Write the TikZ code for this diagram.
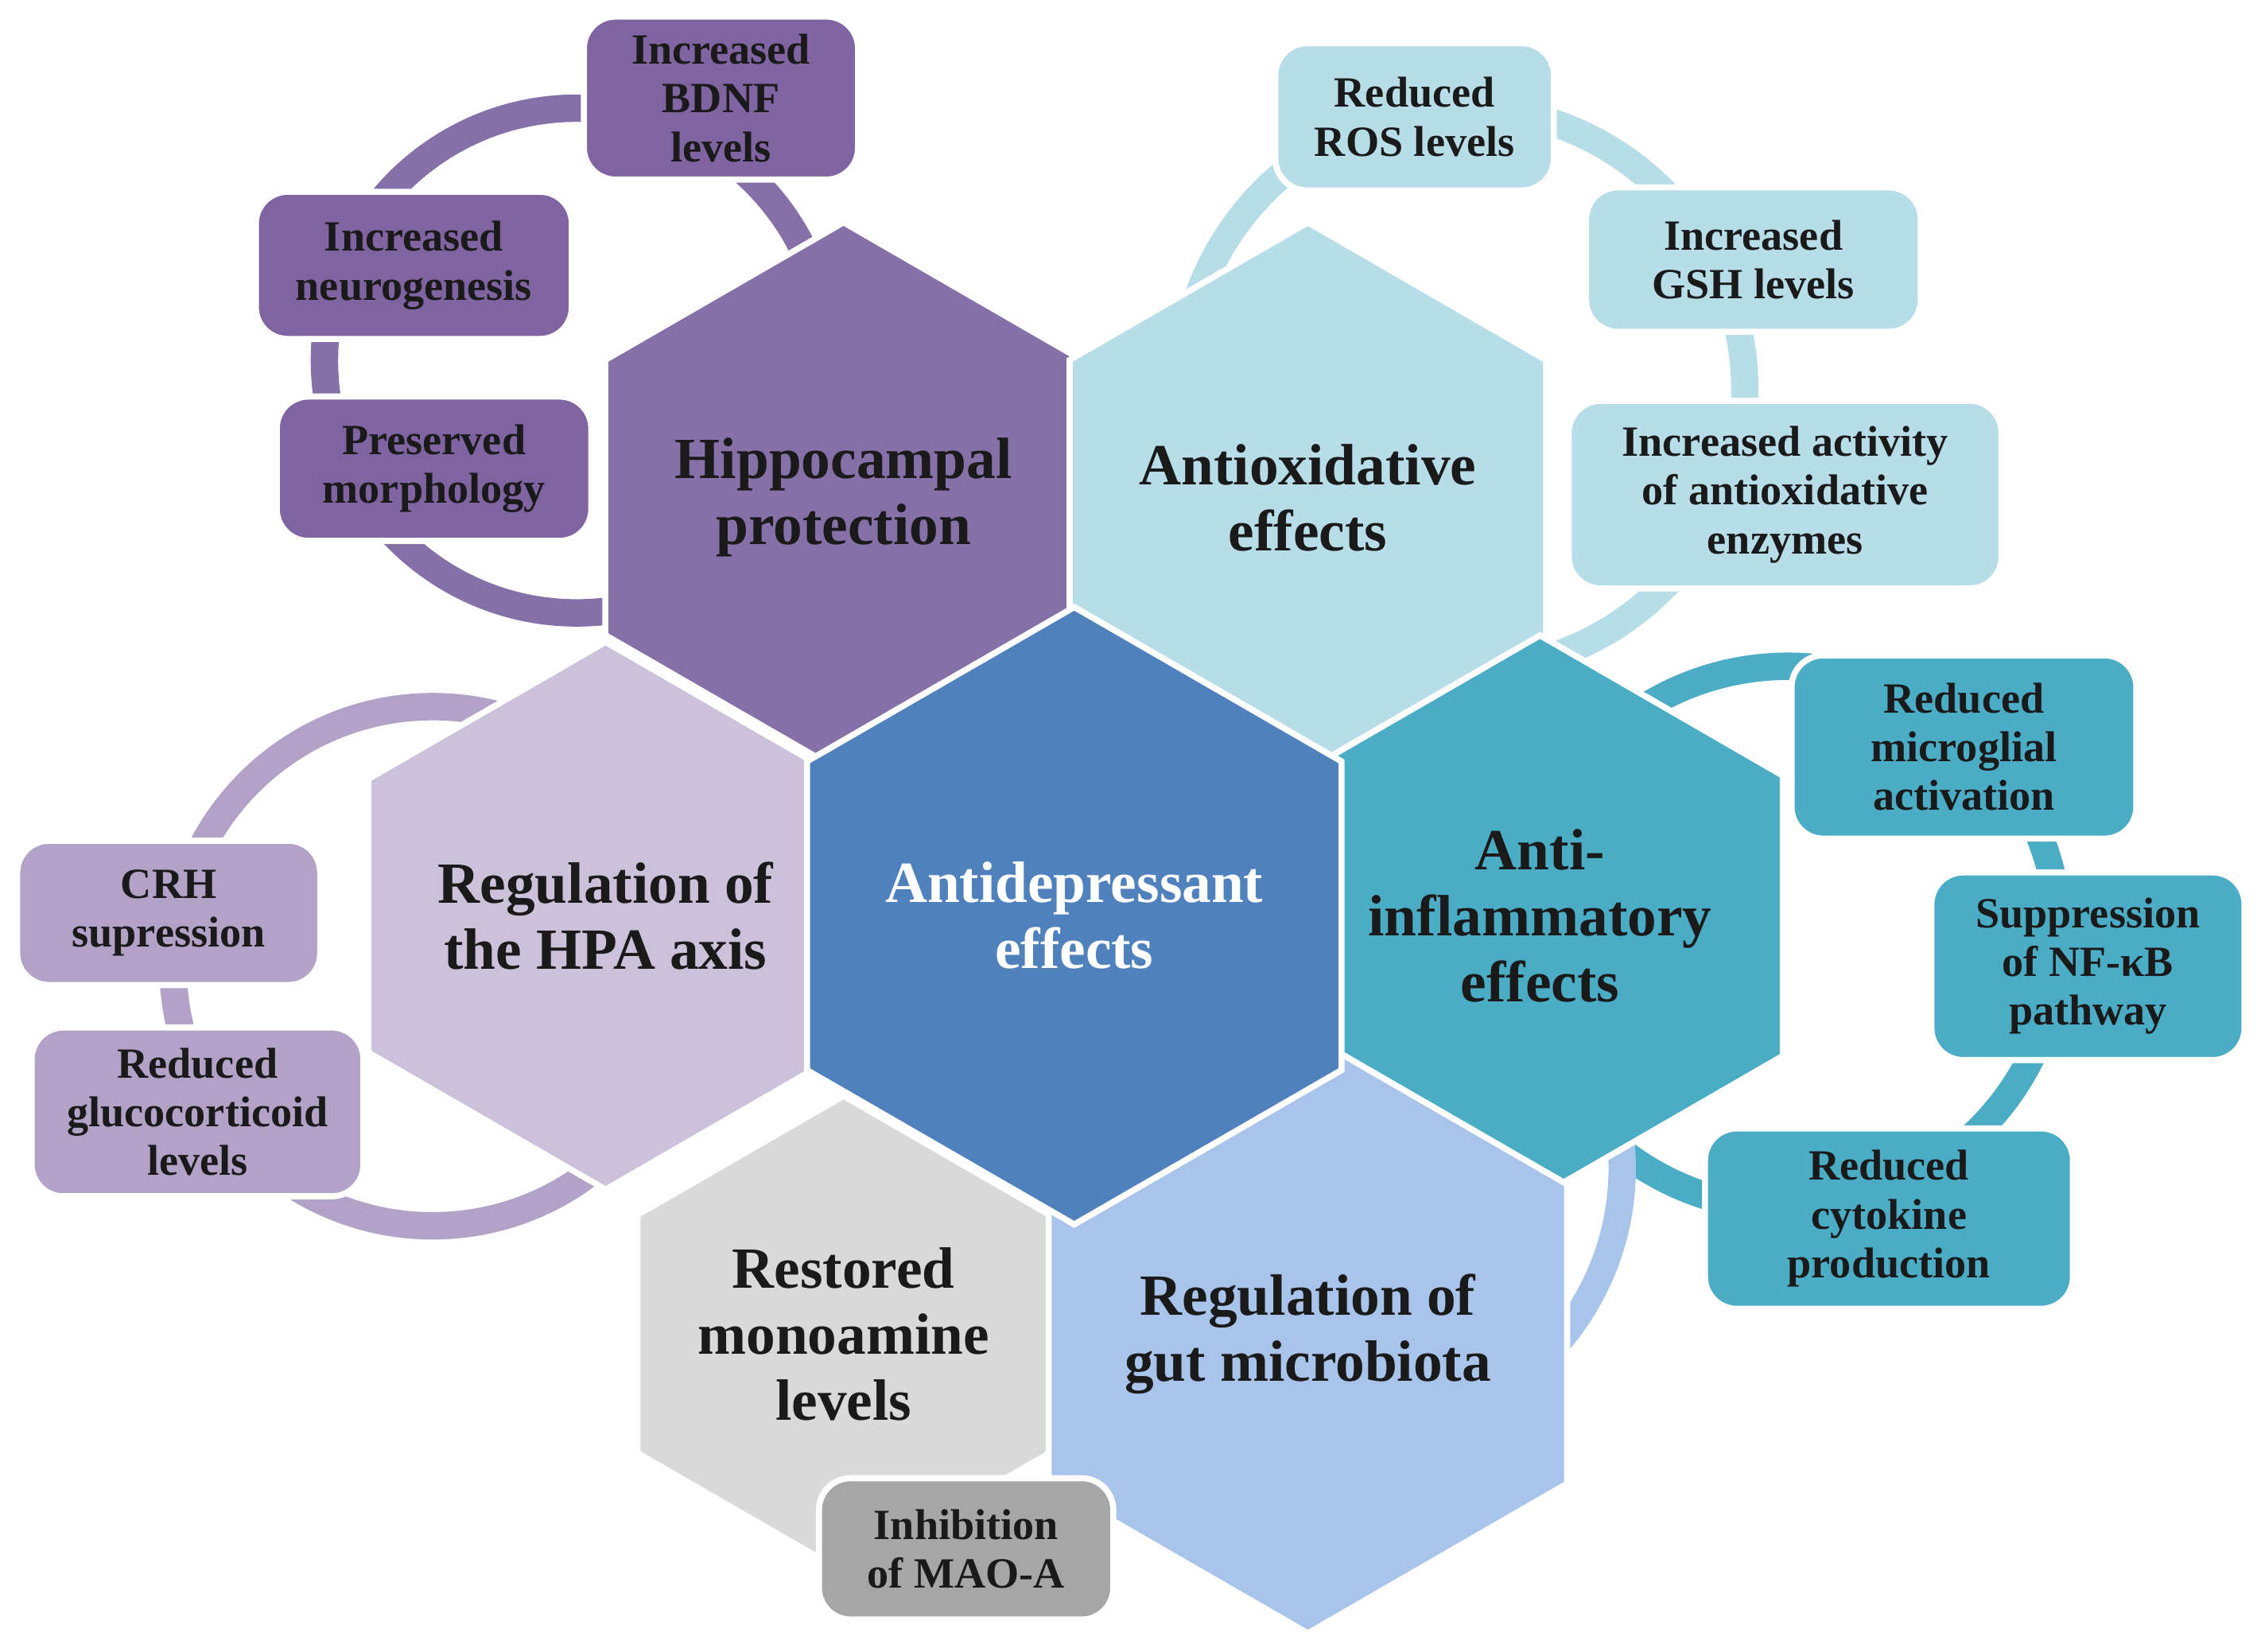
\documentclass[tikz,border=0pt]{standalone}
\usepackage{fontspec}
\setmainfont{Liberation Serif}
\usetikzlibrary{shapes.geometric}
\definecolor{hipc}{HTML}{8570A8}
\definecolor{hipb}{HTML}{8064A2}
\definecolor{antc}{HTML}{B7DDE8}
\definecolor{infc}{HTML}{4BACC6}
\definecolor{cenc}{HTML}{4F81BD}
\definecolor{hpac}{HTML}{CCC1DA}
\definecolor{hpab}{HTML}{B3A2C7}
\definecolor{monc}{HTML}{D9D9D9}
\definecolor{monb}{HTML}{A6A6A6}
\definecolor{gutc}{HTML}{A9C4EB}
\definecolor{txt}{HTML}{1A1A1A}
\begin{document}
\begin{tikzpicture}[x=0.01cm,y=-0.01cm,
 hex/.style={regular polygon,regular polygon sides=6,shape border rotate=30,minimum size=3.08cm,inner sep=0pt,draw=white,line width=1.2pt,align=center,text=txt,font=\fontsize{11.5}{13}\selectfont\bfseries},
 box/.style={rounded corners=0.22cm,draw=white,line width=1.2pt,align=center,text=txt,font=\fontsize{8.5}{9.6}\selectfont\bfseries,inner sep=0pt},
 ring/.style={line width=0.19cm}]
\useasboundingbox (0,0) rectangle (1568,1145);
% rings
\draw[ring,hipc] (400,250) circle (175);
\draw[ring,antc] (1015,270) circle (195);
\draw[ring,hpab] (300,670) circle (180);
\draw[ring,infc] (1240,650) circle (188);
\draw[ring,gutc] (940,810) circle (185);
% hexagons
\node[hex,fill=hipc] (hip) at (585,345) {Hippocampal\\protection};
\node[hex,fill=antc] (ant) at (907,345) {Antioxidative\\effects};
\node[hex,fill=infc] (inf) at (1068,635) {Anti-\\inflammatory\\effects};
\node[hex,fill=hpac] (hpa) at (420,635) {Regulation of\\the HPA axis};
\node[hex,fill=monc] (mon) at (585,925) {Restored\\monoamine\\levels};
\node[hex,fill=gutc] (gut) at (907,925) {Regulation of\\gut microbiota};
\node[hex,fill=cenc,text=white] (cen) at (745,635) {Antidepressant\\effects};
% boxes
\node[box,fill=hipb,minimum width=1.9cm,minimum height=1.13cm] (b1) at (500,68) {Increased\\BDNF\\levels};
\node[box,fill=hipb,minimum width=2.19cm,minimum height=1.02cm] (b2) at (287,184) {Increased\\neurogenesis};
\node[box,fill=hipb,minimum width=2.18cm,minimum height=1.0cm] (b3) at (301,325) {Preserved\\morphology};
\node[box,fill=antc,minimum width=1.93cm,minimum height=1.02cm] (a1) at (981,81) {Reduced\\ROS levels};
\node[box,fill=antc,minimum width=2.32cm,minimum height=1.0cm] (a2) at (1216,180) {Increased\\GSH levels};
\node[box,fill=antc,minimum width=3.0cm,minimum height=1.3cm] (a3) at (1238,343) {Increased activity\\of antioxidative\\enzymes};
\node[box,fill=infc,minimum width=2.39cm,minimum height=1.27cm] (i1) at (1362,518) {Reduced\\microglial\\activation};
\node[box,fill=infc,minimum width=2.17cm,minimum height=1.3cm] (i2) at (1448,670) {Suppression\\of NF-κB\\pathway};
\node[box,fill=infc,minimum width=2.55cm,minimum height=1.25cm] (i3) at (1310,845) {Reduced\\cytokine\\production};
\node[box,fill=hpab,minimum width=2.1cm,minimum height=1.0cm] (h1) at (117,633) {CRH\\supression};
\node[box,fill=hpab,minimum width=2.3cm,minimum height=1.17cm] (h2) at (137,771) {Reduced\\glucocorticoid\\levels};
\node[box,fill=monb,minimum width=2.04cm,minimum height=0.98cm] (m1) at (670,1074) {Inhibition\\of MAO-A};
\end{tikzpicture}
\end{document}
